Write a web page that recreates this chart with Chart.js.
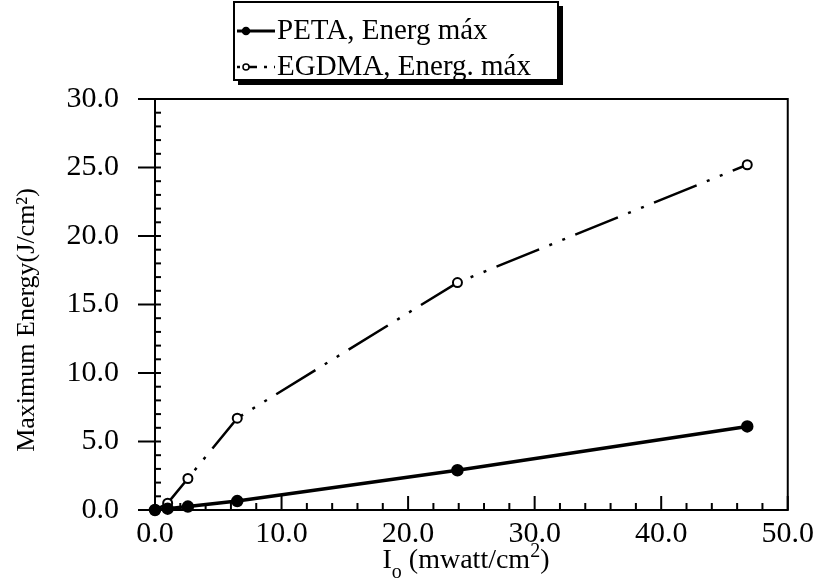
<!DOCTYPE html>
<html>
<head>
<meta charset="utf-8">
<script src="https://cdn.jsdelivr.net/npm/chart.js@4.4.1/dist/chart.umd.min.js"></script>
<style>
  html, body { margin: 0; background: #fff; }
  #wrap { width: 820px; height: 585px; }
</style>
</head>
<body>
<div id="wrap"><canvas id="chart"></canvas></div>
<script>
// data
const intensity = [0, 1.0, 2.6, 6.5, 23.9, 46.8];
const petaEnergy = [0, 0.1, 0.25, 0.65, 2.9, 6.1];
const egdmaEnergy = [0, 0.5, 2.3, 6.7, 16.6, 25.2];
const seriesNames = ['PETA, Energ máx', 'EGDMA, Energ. máx'];
const xTickLabels = [0, 10, 20, 30, 40, 50];
const yTickLabels = [0, 5, 10, 15, 20, 25, 30];

const serif = 'Liberation Serif';

const toPoints = (xs, ys) => xs.map((x, i) => ({x: x, y: ys[i]}));

// tick marks (inside), frame, axis titles and legend box
const decor = {
    id: 'decor',
    afterDraw(chart) {
        const ctx = chart.ctx;
        const area = chart.chartArea;
        const xs = chart.scales.x;
        const ys = chart.scales.y;
        ctx.save();
        ctx.strokeStyle = '#000';
        ctx.fillStyle = '#000';

        // frame
        ctx.lineWidth = 2;
        ctx.strokeRect(area.left, area.top, area.right - area.left, area.bottom - area.top);

        // y ticks: minor every 1, major every 5
        for (const t of ys.ticks) {
            const py = ys.getPixelForValue(t.value);
            const major = yTickLabels.includes(t.value);
            ctx.beginPath();
            ctx.moveTo(area.left - (major ? 17 : 0), py);
            ctx.lineTo(area.left + 6, py);
            ctx.stroke();
        }
        // x ticks: minor every 2, major every 10
        for (const t of xs.ticks) {
            const px = xs.getPixelForValue(t.value);
            const major = xTickLabels.includes(t.value);
            ctx.beginPath();
            ctx.moveTo(px, area.bottom);
            ctx.lineTo(px, area.bottom - (major ? 14 : 7));
            ctx.stroke();
        }

        // y title
        ctx.font = '26px "' + serif + '"';
        ctx.textAlign = 'center';
        ctx.textBaseline = 'middle';
        ctx.save();
        ctx.translate(27, 320);
        ctx.rotate(-Math.PI / 2);
        ctx.fillText('Maximum Energy(J/cm\u00B2)', 0, 0);
        ctx.restore();

        // x title with subscript o and superscript 2
        const big = '28px "' + serif + '"';
        const small = '20px "' + serif + '"';
        const parts = [
            ['I', big, 0], ['o', small, 10], [' (mwatt/cm', big, 0], ['2', small, -11], [')', big, 0]
        ];
        let total = 0;
        for (const p of parts) { ctx.font = p[1]; total += ctx.measureText(p[0]).width; }
        let cx = 466 - total / 2;
        ctx.textAlign = 'left';
        ctx.textBaseline = 'alphabetic';
        for (const p of parts) {
            ctx.font = p[1];
            ctx.fillText(p[0], cx, 568 + p[2]);
            cx += ctx.measureText(p[0]).width;
        }

        // legend box with shadow
        const bx = 234, by = 2, bw = 324, bh = 78;
        ctx.fillStyle = '#fff';
        ctx.fillRect(bx, by, bw, bh);
        ctx.fillStyle = '#000';
        ctx.lineWidth = 2;
        ctx.strokeRect(bx, by, bw, bh);
        ctx.fillRect(bx + bw, by + 4, 5, bh + 1);
        ctx.fillRect(bx + 4, by + bh, bw + 1, 5);

        const rows = [31, 67];
        chart.data.datasets.forEach((ds, i) => {
            const y = rows[i];
            ctx.strokeStyle = '#000';
            ctx.lineWidth = i === 0 ? 3 : 2.5;
            ctx.setLineDash(i === 0 ? [] : [3, 7, 10, 7]);
            ctx.beginPath();
            ctx.moveTo(bx + 3, y);
            ctx.lineTo(bx + 41, y);
            ctx.stroke();
            ctx.setLineDash([]);
            ctx.beginPath();
            ctx.arc(bx + 12, y, i === 0 ? 3.5 : 3, 0, Math.PI * 2);
            ctx.fillStyle = ds.pointBackgroundColor;
            ctx.fill();
            ctx.lineWidth = 1.5;
            ctx.stroke();
            ctx.fillStyle = '#000';
            ctx.font = '29px "' + serif + '"';
            ctx.textAlign = 'left';
            ctx.textBaseline = 'alphabetic';
            ctx.fillText(ds.label, bx + 43, y + 8);
        });
        ctx.restore();
    }
};

new Chart(document.getElementById('chart'), {
    type: 'line',
    data: {
        datasets: [
            {
                label: seriesNames[0],
                data: toPoints(intensity, petaEnergy),
                borderColor: '#000',
                borderWidth: 3.5,
                pointRadius: 4.5,
                pointBackgroundColor: '#000',
                pointBorderColor: '#000',
                clip: false
            },
            {
                label: seriesNames[1],
                data: toPoints(intensity, egdmaEnergy),
                borderColor: '#000',
                borderWidth: 2.5,
                borderDash: [46, 11, 3, 11, 3, 11],
                pointRadius: 4.5,
                pointBorderWidth: 2,
                pointBackgroundColor: '#fff',
                pointBorderColor: '#000',
                clip: false
            }
        ]
    },
    options: {
        responsive: true,
        maintainAspectRatio: false,
        animation: false,
        layout: {padding: {top: 99, right: 32, left: 0, bottom: 0}},
        plugins: {legend: {display: false}, tooltip: {enabled: false}},
        scales: {
            x: {
                type: 'linear',
                min: 0,
                max: 50,
                afterFit: (s) => { s.height = 75; },
                grid: {display: false, drawTicks: false},
                border: {display: false},
                ticks: {
                    stepSize: 2,
                    autoSkip: false,
                    maxRotation: 0,
                    padding: 6,
                    color: '#000',
                    font: {family: serif, size: 30},
                    callback: (v) => xTickLabels.includes(v) ? v.toFixed(1) : ''
                }
            },
            y: {
                type: 'linear',
                min: 0,
                max: 30,
                afterFit: (s) => { s.width = 155; },
                grid: {display: false, drawTicks: false},
                border: {display: false},
                ticks: {
                    stepSize: 1,
                    autoSkip: false,
                    padding: 36,
                    color: '#000',
                    font: {family: serif, size: 30},
                    callback: (v) => yTickLabels.includes(v) ? v.toFixed(1) : ''
                }
            }
        }
    },
    plugins: [decor]
});
</script>
</body>
</html>
